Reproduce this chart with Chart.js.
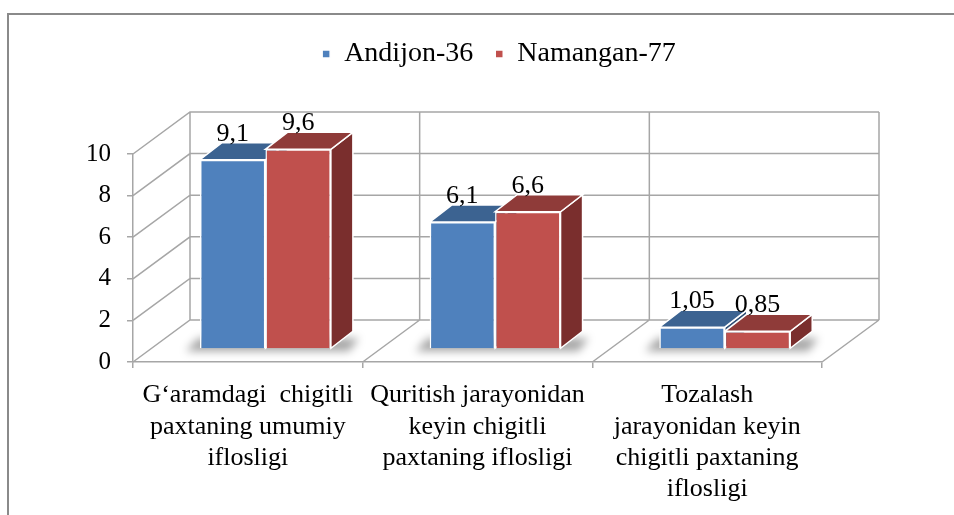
<!DOCTYPE html>
<html>
<head>
<meta charset="utf-8">
<script src="https://cdn.jsdelivr.net/npm/chart.js@4.4.1/dist/chart.umd.min.js"></script>
<style>
  html, body { margin: 0; padding: 0; background: #fff; }
  #wrap { position: relative; width: 954px; height: 515px; }
</style>
</head>
<body>
<div id="wrap"><canvas id="myChart" width="954" height="515"></canvas></div>
<script>
const categories = [
  ['G\u2018aramdagi  chigitli', 'paxtaning umumiy', 'iflosligi'],
  ['Quritish jarayonidan', 'keyin chigitli', 'paxtaning iflosligi'],
  ['Tozalash', 'jarayonidan keyin', 'chigitli paxtaning', 'iflosligi']
];
const seriesNames = ['Andijon-36', 'Namangan-77'];
const andijon = [9.1, 6.1, 1.05];
const namangan = [9.6, 6.6, 0.85];
const yTicks = [0, 2, 4, 6, 8, 10];

// 3d look
const WALL = { dx: 57, dy: -42 };   // front plane -> back wall
const PLANE = { dx: 17.6, dy: -13 }; // front plane -> bar front face
const DEPTH = { dx: 22, dy: -17 };   // bar depth
const lineColor = '#A6A6A6';
const faces = [
  { front: '#4F81BD', top: '#3C6391', side: '#2F4E74' },
  { front: '#C0504D', top: '#8F3B39', side: '#7A2E2D' }
];
const serif = "'Liberation Serif', 'Times New Roman', serif";

function poly(ctx, pts, fill) {
  ctx.beginPath();
  ctx.moveTo(pts[0][0], pts[0][1]);
  for (let i = 1; i < pts.length; i++) ctx.lineTo(pts[i][0], pts[i][1]);
  ctx.closePath();
  ctx.fillStyle = fill;
  ctx.fill();
  ctx.strokeStyle = '#ffffff';
  ctx.lineWidth = 1.5;
  ctx.stroke();
}

const walls3d = {
  id: 'walls3d',
  beforeDraw(chart) {
    const ctx = chart.ctx;
    ctx.save();
    ctx.fillStyle = '#fff';
    ctx.fillRect(0, 0, chart.width, chart.height);
    ctx.strokeStyle = '#8A8A8A';
    ctx.lineWidth = 2;
    ctx.strokeRect(8, 14, chart.width + 20, chart.height + 20);
    ctx.restore();
  },
  beforeDatasetsDraw(chart) {
    const ctx = chart.ctx;
    const x = chart.scales.x, y = chart.scales.y;
    const left = x.left, right = x.right;
    const y0 = y.getPixelForValue(0), yTop = y.getPixelForValue(yTicks[yTicks.length - 1]);
    const step = (right - left) / categories.length;
    ctx.save();
    ctx.strokeStyle = lineColor;
    ctx.lineWidth = 1.5;
    ctx.beginPath();
    // side wall + back wall horizontal lines
    yTicks.forEach(v => {
      const py = y.getPixelForValue(v);
      ctx.moveTo(left, py);
      ctx.lineTo(left + WALL.dx, py + WALL.dy);
      ctx.lineTo(right + WALL.dx, py + WALL.dy);
    });
    // back wall verticals and floor diagonals
    for (let i = 0; i <= categories.length; i++) {
      const bx = left + i * step;
      ctx.moveTo(bx + WALL.dx, yTop + WALL.dy);
      ctx.lineTo(bx + WALL.dx, y0 + WALL.dy);
      if (i > 0) {
        ctx.moveTo(bx, y0);
        ctx.lineTo(bx + WALL.dx, y0 + WALL.dy);
      }
    }
    ctx.stroke();

    // soft shadow on the floor
    const m0 = chart.getDatasetMeta(0).data, m1 = chart.getDatasetMeta(1).data;
    ctx.filter = 'blur(4px)';
    ctx.fillStyle = 'rgba(0,0,0,0.35)';
    m0.forEach((b, i) => {
      const r = m1[i];
      const l = b.x - b.width / 2 + PLANE.dx - 14;
      const rr = r.x + r.width / 2 + PLANE.dx + DEPTH.dx + 6;
      const base = b.base + PLANE.dy;
      ctx.beginPath();
      ctx.moveTo(l, base + 3);
      ctx.lineTo(rr - 10, base + 3);
      ctx.lineTo(rr, base - 10);
      ctx.lineTo(l + 12, base - 10);
      ctx.closePath();
      ctx.fill();
    });
    ctx.filter = 'none';

    // top and side faces (fronts are drawn by Chart.js afterwards)
    for (let i = 0; i < categories.length; i++) {
      [0, 1].forEach(d => {
        const b = chart.getDatasetMeta(d).data[i];
        const l = b.x - b.width / 2 + PLANE.dx, r = b.x + b.width / 2 + PLANE.dx;
        const t = b.y + PLANE.dy, bot = b.base + PLANE.dy;
        poly(ctx, [[r, bot], [r, t], [r + DEPTH.dx, t + DEPTH.dy], [r + DEPTH.dx, bot + DEPTH.dy]], faces[d].side);
        poly(ctx, [[l, t], [r, t], [r + DEPTH.dx, t + DEPTH.dy], [l + DEPTH.dx, t + DEPTH.dy]], faces[d].top);
      });
    }
    ctx.restore();
  },
  beforeDatasetDraw(chart) {
    chart.ctx.save();
    chart.ctx.translate(PLANE.dx, PLANE.dy);
  },
  afterDatasetDraw(chart) {
    chart.ctx.restore();
  },
  afterDatasetsDraw(chart) {
    const ctx = chart.ctx;
    ctx.save();
    ctx.font = '26px ' + serif;
    ctx.fillStyle = '#000';
    ctx.textAlign = 'center';
    ctx.textBaseline = 'alphabetic';
    chart.data.datasets.forEach((ds, d) => {
      chart.getDatasetMeta(d).data.forEach((b, i) => {
        const label = String(ds.data[i]).replace('.', ',');
        ctx.fillText(label, b.x + PLANE.dx, b.y + PLANE.dy + DEPTH.dy - 2);
      });
    });
    ctx.restore();
  }
};

new Chart(document.getElementById('myChart'), {
  type: 'bar',
  data: {
    labels: categories,
    datasets: [
      {
        label: seriesNames[0],
        data: andijon,
        backgroundColor: faces[0].front,
        borderColor: '#ffffff',
        borderWidth: 1.5,
        categoryPercentage: 0.57,
        barPercentage: 1,
        clip: false
      },
      {
        label: seriesNames[1],
        data: namangan,
        backgroundColor: faces[1].front,
        borderColor: '#ffffff',
        borderWidth: 1.5,
        categoryPercentage: 0.57,
        barPercentage: 1,
        clip: false
      }
    ]
  },
  options: {
    responsive: false,
    animation: false,
    devicePixelRatio: 1,
    layout: { padding: { top: 18, left: 44, right: 0, bottom: 0 } },
    plugins: {
      legend: {
        display: true,
        position: 'top',
        labels: {
          boxWidth: 8,
          boxHeight: 8,
          padding: 22,
          color: '#000',
          font: { family: serif, size: 28 }
        }
      },
      // empty spacer between legend and plot
      title: {
        display: true,
        text: '',
        weight: 500,
        font: { size: 1, lineHeight: 1 },
        padding: { top: 0, bottom: 75 }
      },
      tooltip: { enabled: false }
    },
    scales: {
      x: {
        grid: { drawOnChartArea: false, drawTicks: true, tickLength: 6, color: lineColor, lineWidth: 1.5 },
        border: { color: lineColor, width: 1.5 },
        ticks: {
          color: '#000',
          font: { family: serif, size: 26, lineHeight: 1.2 },
          padding: 12,
          maxRotation: 0,
          autoSkip: false
        },
        afterFit(s) { s.height = 153; }
      },
      y: {
        min: 0,
        max: 10,
        grid: { drawOnChartArea: false, drawTicks: true, tickLength: 6, color: lineColor, lineWidth: 1.5 },
        border: { color: lineColor, width: 1.5 },
        ticks: {
          stepSize: 2,
          color: '#000',
          font: { family: serif, size: 25 },
          padding: 16
        },
        afterFit(s) { s.width = 89; }
      },
      yRight: {
        position: 'right',
        grid: { display: false },
        border: { display: false },
        ticks: { display: false },
        afterFit(s) { s.width = 132; }
      }
    }
  },
  plugins: [walls3d]
});
</script>
</body>
</html>
